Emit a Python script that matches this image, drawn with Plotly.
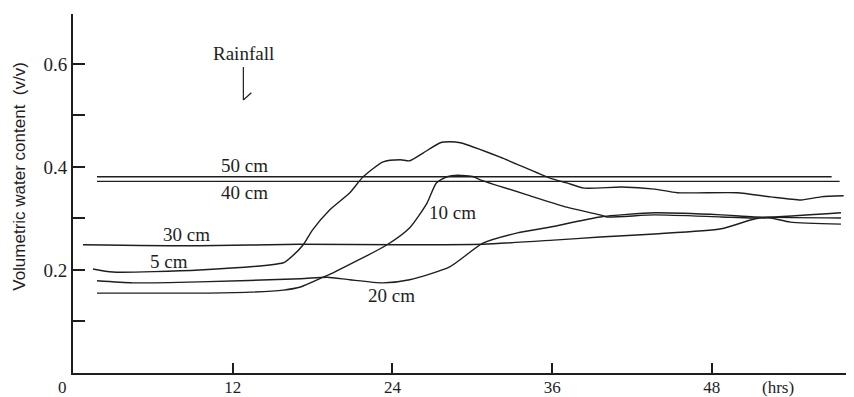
import plotly.graph_objects as go

# ---- data (hours, volumetric water content) ----
t_50 = [1.8, 57.0]
v_50 = [0.381, 0.381]

t_40 = [1.8, 57.6]
v_40 = [0.372, 0.372]

t_30 = [0.75, 9.5, 17.1, 24.6, 30.8, 36.1, 39.6, 43.7, 48.7, 51.2, 52.4, 53.9, 57.7]
v_30 = [0.249, 0.247, 0.250, 0.249, 0.250, 0.258, 0.264, 0.270, 0.280, 0.299, 0.301, 0.293, 0.289]

t_5 = [1.5, 3.0, 9.5, 15.8, 16.3, 17.3, 18.0, 19.3, 20.8, 21.8, 23.3, 24.6, 25.3, 26.3,
       27.6, 28.3, 29.1, 32.1, 35.8, 37.1, 38.4, 41.2, 43.7, 45.4, 49.9, 52.4, 54.7, 56.2, 57.9]
v_5 = [0.202, 0.196, 0.200, 0.214, 0.223, 0.249, 0.278, 0.317, 0.350, 0.381, 0.410, 0.414, 0.412, 0.427,
       0.447, 0.449, 0.447, 0.419, 0.379, 0.369, 0.359, 0.361, 0.357, 0.350, 0.350, 0.342, 0.336, 0.342, 0.344]

t_10 = [1.8, 9.5, 13.3, 15.8, 17.1, 18.8, 19.5, 23.6, 25.3, 26.6, 27.3, 28.1, 28.9, 30.1,
        30.6, 34.6, 37.1, 39.6, 40.1, 43.7, 48.7, 51.2, 57.7]
v_10 = [0.155, 0.155, 0.157, 0.161, 0.167, 0.186, 0.194, 0.249, 0.282, 0.330, 0.369, 0.381, 0.384, 0.381,
        0.375, 0.342, 0.322, 0.307, 0.303, 0.307, 0.303, 0.301, 0.311]

t_20 = [1.8, 4.5, 9.5, 17.1, 19.1, 20.8, 23.3, 25.3, 28.3, 30.8, 33.4, 35.8, 39.6, 43.7, 48.7, 51.2, 57.7]
v_20 = [0.179, 0.175, 0.177, 0.183, 0.186, 0.181, 0.175, 0.181, 0.206, 0.252, 0.272, 0.283, 0.303,
        0.311, 0.307, 0.303, 0.301]

series = [("50 cm", t_50, v_50), ("40 cm", t_40, v_40), ("30 cm", t_30, v_30),
          ("5 cm", t_5, v_5), ("10 cm", t_10, v_10), ("20 cm", t_20, v_20)]

labels = ["50 cm", "40 cm", "30 cm", "5 cm", "10 cm", "20 cm"]
label_t = [12.85, 12.85, 8.5, 7.2, 28.55, 23.9]
label_v = [0.402, 0.350, 0.268, 0.216, 0.311, 0.151]

x_ticks = [12, 24, 36, 48]
y_ticks = [0.1, 0.2, 0.3, 0.4, 0.5, 0.6]
y_ticktext = ["", "0.2", "", "0.4", "", "0.6"]

rain_t = 12.8
rain_v_top, rain_v_tip = 0.594, 0.530

INK = "#1e1e1e"
SERIF = "Liberation Serif, Times New Roman, serif"
FS = 19
FSX = 17

fig = go.Figure()
for name, t, v in series:
    fig.add_trace(go.Scatter(x=t, y=v, mode="lines", name=name,
                             line=dict(color=INK, width=1.4, shape="spline", smoothing=0.6),
                             hoverinfo="skip"))

for txt, tx, vy in zip(labels, label_t, label_v):
    fig.add_annotation(x=tx, y=vy, text=txt, showarrow=False,
                       font=dict(family=SERIF, size=FS, color=INK))

# Rainfall label and arrow
fig.add_annotation(x=rain_t, y=0.621, text="Rainfall", showarrow=False,
                   font=dict(family=SERIF, size=FS, color=INK))
fig.add_shape(type="line", x0=rain_t, y0=rain_v_top, x1=rain_t, y1=rain_v_tip,
              line=dict(color=INK, width=1.2))
fig.add_shape(type="line", x0=rain_t, y0=rain_v_tip, x1=rain_t + 0.6, y1=rain_v_tip + 0.014,
              line=dict(color=INK, width=1.2))

# origin and unit labels
fig.add_annotation(x=0, y=0, text="0", showarrow=False, xanchor="center", yanchor="top",
                   xshift=-11, yshift=-3, font=dict(family=SERIF, size=FSX, color=INK))
fig.add_annotation(x=53.0, y=0, text="(hrs)", showarrow=False, xanchor="center", yanchor="top",
                   yshift=-3, font=dict(family=SERIF, size=FSX, color=INK))

# y axis title
fig.add_annotation(xref="paper", x=0, xshift=-53, xanchor="center", y=0.381, yref="y",
                   text="Volumetric water content  (v/v)", textangle=-90, showarrow=False,
                   font=dict(family="Liberation Sans, Arial, sans-serif", size=17, color=INK))

# page body has an 8px default margin; size the figure so it fits the 854x397 window
fig.update_layout(
    width=846, height=389,
    margin=dict(l=65, r=0, t=6, b=24),
    paper_bgcolor="white", plot_bgcolor="white",
    showlegend=False,
    xaxis=dict(range=[0, 58.68], tickvals=x_ticks, ticks="inside", ticklen=10, tickwidth=1.5,
               tickcolor=INK, showline=True, linecolor=INK, linewidth=2, showgrid=False,
               zeroline=False, automargin=False, ticklabelstandoff=-2,
               tickfont=dict(family=SERIF, size=FSX, color=INK)),
    yaxis=dict(range=[0, 0.697], tickvals=y_ticks, ticktext=y_ticktext, ticks="inside",
               ticklen=12, tickwidth=1.5, tickcolor=INK, showline=True, linecolor=INK,
               linewidth=2, showgrid=False, zeroline=False, automargin=False,
               tickfont=dict(family=SERIF, size=FS, color=INK)),
)

fig.write_html("out.html")
